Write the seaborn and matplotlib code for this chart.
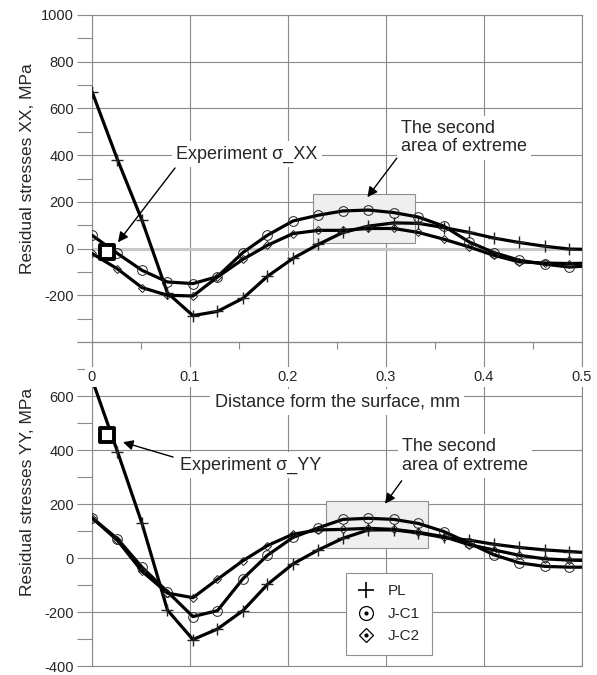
import matplotlib
matplotlib.use("Agg")
import matplotlib.pyplot as plt
import seaborn as sns
from matplotlib.lines import Line2D
from matplotlib.patches import Rectangle

sns.set_style("white")
plt.rcParams["font.family"] = ["Liberation Sans", "DejaVu Sans"]

# ---------------- data ----------------
depth = [0.0, 0.026, 0.051, 0.077, 0.103, 0.128, 0.154, 0.179, 0.205, 0.231,
         0.256, 0.282, 0.308, 0.333, 0.359, 0.385, 0.410, 0.436, 0.462, 0.487, 0.5]

xx_pl = [672, 381, 121, -190, -287, -269, -213, -119, -42, 18,
         69, 96, 110, 108, 90, 69, 45, 26, 10, -2, -3]
xx_jc1 = [57, -21, -93, -143, -150, -120, -17, 57, 118, 143,
          161, 165, 154, 135, 96, 28, -17, -50, -67, -79, -76]
xx_jc2 = [-21, -87, -167, -200, -203, -122, -46, 14, 64, 78,
          78, 86, 86, 69, 40, 7, -29, -57, -62, -64, -63]

yy_pl = [662, 394, 128, -193, -302, -263, -195, -98, -22, 30,
         73, 104, 104, 93, 76, 66, 51, 39, 30, 24, 21]
yy_jc1 = [149, 71, -34, -125, -217, -195, -77, 10, 76, 112,
          143, 147, 143, 128, 98, 55, 12, -18, -31, -34, -34]
yy_jc2 = [149, 65, -49, -130, -147, -79, -10, 46, 88, 104,
          106, 110, 106, 95, 79, 49, 30, 10, -3, -8, -9]

series_names = ["PL", "J-C1", "J-C2"]
exp_xx = (0.015, -14)
exp_yy = (0.015, 454)

x_ticks = [0, 0.1, 0.2, 0.3, 0.4, 0.5]
x_tick_labels = ["0", "0.1", "0.2", "0.3", "0.4", "0.5"]

# ---------------- figure ----------------
fig = plt.figure(figsize=(5.97, 6.75), dpi=100)
fig.patch.set_facecolor("white")
ax2 = fig.add_axes([0.1541, 1 - 666 / 675, 0.8208, 324 / 675])
ax1 = fig.add_axes([0.1541, 1 - 342 / 675, 0.8208, 327 / 675])
ax1.set_zorder(3)
ax1.patch.set_alpha(0)
ax2.set_facecolor("white")

GRID = "#8a8a8a"
styles = [dict(marker="+", markersize=8, markeredgewidth=1.0),
          dict(marker="o", markersize=7, markeredgewidth=0.7, markerfacecolor="none"),
          dict(marker="D", markersize=4.5, markeredgewidth=0.7, markerfacecolor="none")]


def draw(ax, vals_list):
    for vals, st in zip(vals_list, styles):
        sns.lineplot(x=depth, y=vals, ax=ax, color="black", lw=2.3,
                     markeredgecolor="#222222", markevery=slice(0, 20),
                     estimator=None, sort=False, legend=False, zorder=5, **st)


def style_axes(ax, ylo, yhi, labeled):
    ax.set_xlim(0, 0.5)
    ax.set_ylim(ylo, yhi)
    ax.set_xticks(x_ticks)
    ax.set_xticks([0.05, 0.15, 0.25, 0.35, 0.45], minor=True)
    majors = list(range(ylo, yhi + 1, 200))
    ax.set_yticks(majors)
    ax.set_yticklabels([str(v) if v in labeled else "" for v in majors])
    ax.set_yticks(list(range(ylo + 100, yhi, 200)), minor=True)
    ax.grid(True, which="major", color=GRID, lw=0.8)
    ax.set_axisbelow(True)
    for s in ax.spines.values():
        s.set_color(GRID)
        s.set_linewidth(0.8)
    ax.tick_params(axis="y", which="both", length=11, width=0.8, color=GRID,
                   pad=2, labelsize=10.5, direction="out", left=True)
    ax.set_xlabel("")
    ax.set_ylabel("")


arrow_kw = dict(arrowstyle="-|>", color="black", lw=1.0,
                mutation_scale=15, shrinkA=0, shrinkB=0)

# top chart
style_axes(ax1, -400, 1000, [1000, 800, 600, 400, 200, 0, -200])
ax1.axhline(0, color="#c8c8c8", lw=2.2, zorder=1)
ax1.add_patch(Rectangle((0.226, 23), 0.104, 210, facecolor="#efefef",
                        edgecolor="#909090", lw=0.8, zorder=2))
draw(ax1, [xx_pl, xx_jc1, xx_jc2])
sns.scatterplot(x=[exp_xx[0]], y=[exp_xx[1]], ax=ax1, marker="s", s=110,
                facecolor="white", edgecolor="black", linewidth=2.8, zorder=7)
ax1.set_xticklabels(x_tick_labels)
ax1.tick_params(axis="x", which="major", length=0, pad=20, labelsize=10.5, bottom=True)
ax1.tick_params(axis="x", which="minor", length=5, width=0.8, color=GRID,
                direction="out", bottom=True)
for lbl in ax1.get_xticklabels():
    lbl.set_bbox(dict(facecolor="white", edgecolor="none", pad=2))
ax1.set_ylabel("Residual stresses XX, MPa", fontsize=12.5)
ax1.yaxis.set_label_coords(-0.116, 0.529)

ax1.text(0.0857, 404, "Experiment σ_XX", fontsize=13, va="center", ha="left",
         bbox=dict(facecolor="white", edgecolor="none", pad=3), zorder=6)
ax1.annotate("", xy=(0.0265, 27), xytext=(0.0847, 345),
             arrowprops=arrow_kw, zorder=6)
ax1.text(0.315, 475, "The second\narea of extreme", fontsize=13, va="center",
         ha="left", linespacing=1.12,
         bbox=dict(facecolor="white", edgecolor="none", pad=3), zorder=6)
ax1.annotate("", xy=(0.281, 220), xytext=(0.311, 387),
             arrowprops=arrow_kw, zorder=6)

# bottom chart
style_axes(ax2, -400, 800, [600, 400, 200, 0, -200, -400])
ax2.add_patch(Rectangle((0.239, 37), 0.104, 175, facecolor="#efefef",
                        edgecolor="#909090", lw=0.8, zorder=2))
draw(ax2, [yy_pl, yy_jc1, yy_jc2])
sns.scatterplot(x=[exp_yy[0]], y=[exp_yy[1]], ax=ax2, marker="s", s=110,
                facecolor="white", edgecolor="black", linewidth=2.8, zorder=7)
ax2.set_xticklabels([])
ax2.tick_params(axis="x", which="both", length=0)
ax2.set_ylabel("Residual stresses YY, MPa", fontsize=12.5)
ax2.yaxis.set_label_coords(-0.116, 0.537)

ax2.text(0.0898, 344, "Experiment σ_YY", fontsize=13, va="center", ha="left",
         bbox=dict(facecolor="white", edgecolor="none", pad=3), zorder=6)
ax2.annotate("", xy=(0.0316, 429), xytext=(0.0827, 374),
             arrowprops=arrow_kw, zorder=6)
ax2.text(0.316, 377, "The second\narea of extreme", fontsize=13, va="center",
         ha="left", linespacing=1.12,
         bbox=dict(facecolor="white", edgecolor="none", pad=3), zorder=6)
ax2.annotate("", xy=(0.299, 201), xytext=(0.316, 286),
             arrowprops=arrow_kw, zorder=6)

# x-axis title (belongs to the top chart, sits in the lower panel)
fig.text(0.5645, 1 - 402 / 675, "Distance form the surface, mm", fontsize=13,
         ha="center", va="center",
         bbox=dict(facecolor="white", edgecolor="none", pad=3), zorder=10)

# legend
dot = Line2D([], [], marker="o", markersize=2, color="black", linestyle="none")
h_pl = Line2D([], [], marker="+", markersize=11, markeredgewidth=1.2,
              color="black", linestyle="none")
h_c1 = Line2D([], [], marker="o", markersize=10, markerfacecolor="none",
              markeredgecolor="black", markeredgewidth=0.9, linestyle="none")
h_c2 = Line2D([], [], marker="D", markersize=7.5, markerfacecolor="none",
              markeredgecolor="black", markeredgewidth=0.9, linestyle="none")
leg = ax2.legend([h_pl, (h_c1, dot), (h_c2, dot)], series_names,
                 loc="upper left", bbox_to_anchor=(346 / 597, 1 - 573 / 675),
                 bbox_transform=fig.transFigure, borderaxespad=0, fontsize=11,
                 frameon=True, fancybox=False, framealpha=1, edgecolor="#909090",
                 labelspacing=0.55, handlelength=1.1, handletextpad=0.9,
                 borderpad=0.75)
leg.get_frame().set_linewidth(0.8)
leg.set_zorder(8)

fig.savefig("out.png", dpi=100, facecolor="white")
